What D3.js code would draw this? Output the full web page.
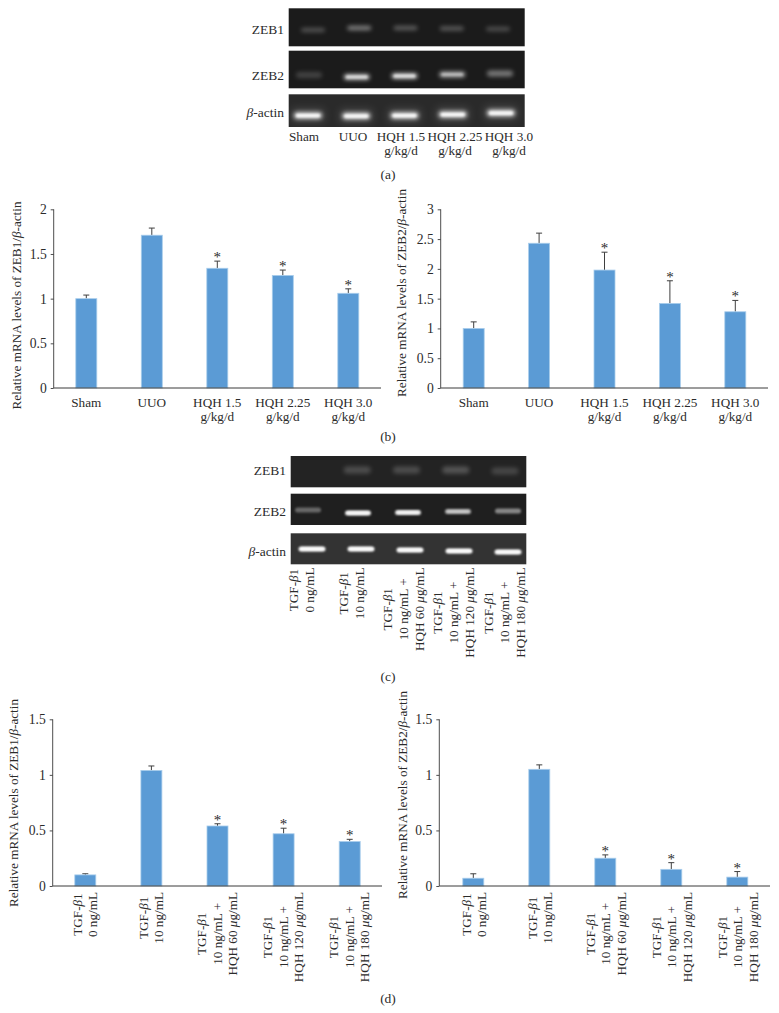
<!DOCTYPE html>
<html><head><meta charset="utf-8">
<script src="https://cdn.jsdelivr.net/npm/d3@7"></script>
<style>
html,body{margin:0;padding:0;background:#fff}
svg{display:block}
text{font-family:"Liberation Serif",serif;fill:#2b2b2b}
</style></head><body>
<svg id="c" width="779" height="1013"></svg>
<script>
// ---------- Data ----------
const tissueLanes = ["Sham", "UUO", "HQH 1.5|g/kg/d", "HQH 2.25|g/kg/d", "HQH 3.0|g/kg/d"];
const cellLanes = ["TGF-β1|0 ng/mL", "TGF-β1|10 ng/mL", "TGF-β1|10 ng/mL +|HQH 60 μg/mL", "TGF-β1|10 ng/mL +|HQH 120 μg/mL", "TGF-β1|10 ng/mL +|HQH 180 μg/mL"];
const marked = [false, false, true, true, true];

const zeb1Tissue = [1.0, 1.71, 1.34, 1.26, 1.06];
const zeb1TissueTop = [1.04, 1.79, 1.42, 1.32, 1.11];
const zeb2Tissue = [1.0, 2.43, 1.98, 1.42, 1.28];
const zeb2TissueTop = [1.11, 2.6, 2.28, 1.8, 1.47];
const zeb1Cell = [0.1, 1.04, 0.54, 0.47, 0.4];
const zeb1CellTop = [0.11, 1.08, 0.56, 0.52, 0.42];
const zeb2Cell = [0.07, 1.05, 0.25, 0.15, 0.08];
const zeb2CellTop = [0.11, 1.09, 0.28, 0.21, 0.13];

const ticksTo2 = [0, 0.5, 1, 1.5, 2];
const ticksTo3 = [0, 0.5, 1, 1.5, 2, 2.5, 3];
const ticksTo15 = [0, 0.5, 1, 1.5];

// band brightness (0..1)
const gelA_zeb1 = [0.30, 0.55, 0.36, 0.34, 0.28];
const gelA_zeb2 = [0.22, 0.86, 0.88, 0.74, 0.52];
const gelA_actin = [1, 1, 1, 1, 1];
const gelC_zeb1 = [0.0, 0.24, 0.24, 0.28, 0.20];
const gelC_zeb2 = [0.36, 1, 0.95, 0.72, 0.52];
const gelC_actin = [0.95, 0.95, 0.95, 0.95, 0.95];

// ---------- Layout ----------
const svg = d3.select("#c");
const BAR = "#5b9bd5", EDGE = "#a9cdec", INK = "#3a3a3a";
const FS = 13.2;

const defs = svg.append("defs");
defs.append("filter").attr("id","soft").attr("x","-30%").attr("y","-150%").attr("width","160%").attr("height","400%")
  .append("feGaussianBlur").attr("stdDeviation",1.9);
defs.append("filter").attr("id","glow").attr("x","-40%").attr("y","-200%").attr("width","180%").attr("height","500%")
  .append("feGaussianBlur").attr("stdDeviation",4);
defs.append("filter").attr("id","fine").attr("x","-30%").attr("y","-150%").attr("width","160%").attr("height","400%")
  .append("feGaussianBlur").attr("stdDeviation",1.1);

// writes a string into a text node, setting Greek letters in italics
function rich(node, str){
  str.split(/([βμ])/).filter(s=>s).forEach(s=>{
    const t = node.append("tspan").text(s);
    if (s==="β"||s==="μ") t.attr("font-style","italic");
  });
  return node;
}

function caption(label, y){
  svg.append("text").attr("x",388).attr("y",y).attr("text-anchor","middle")
    .attr("font-size",13.5).text(label);
}

function barChart(o){
  const x = d3.scalePoint().domain(o.lanes).range(o.xRange);
  const y = d3.scaleLinear().domain([0,o.max]).range([o.y0,o.y1]);
  const g = svg.append("g");
  const rows = o.values.map((v,i)=>({v,top:o.tops[i],lane:o.lanes[i],mark:marked[i]}));

  g.selectAll(".err").data(rows).join("g").each(function(d){
    const e = d3.select(this), cx = x(d.lane);
    e.append("line").attr("x1",cx).attr("x2",cx).attr("y1",y(d.v)).attr("y2",y(d.top));
    e.append("line").attr("x1",cx-3).attr("x2",cx+3).attr("y1",y(d.top)).attr("y2",y(d.top));
  }).selectAll("line").attr("stroke","#3f3f3f").attr("stroke-width",1);

  g.selectAll(".bar").data(rows).join("rect")
    .attr("x",d=>x(d.lane)-10.5).attr("width",21)
    .attr("y",d=>y(d.v)).attr("height",d=>o.y0-y(d.v))
    .attr("fill",BAR).attr("stroke",EDGE).attr("stroke-width",0.8);

  g.selectAll(".star").data(rows.filter(d=>d.mark)).join("text")
    .attr("x",d=>x(d.lane)).attr("y",d=>y(d.top)+1)
    .attr("text-anchor","middle").attr("font-size",15).text("*");

  const axisY = d3.axisLeft(y).tickValues(o.ticks).tickFormat(d3.format("~g")).tickSize(3).tickPadding(4);
  const ay = g.append("g").attr("transform",`translate(${o.xAxis},0)`).call(axisY);
  ay.selectAll("text").attr("font-size",13.6).attr("font-family","Liberation Serif").attr("fill","#2b2b2b");
  ay.selectAll("line,path").attr("stroke",INK).attr("stroke-width",0.9);
  ay.select("path").attr("d",`M0,${o.y1}V${o.y0}`);

  g.append("line").attr("x1",o.xAxis).attr("x2",o.xEnd).attr("y1",o.y0).attr("y2",o.y0)
    .attr("stroke",INK).attr("stroke-width",1);

  rich(g.append("text").attr("text-anchor","middle").attr("font-size",FS)
    .attr("transform",`translate(${o.titleX},${o.titleY}) rotate(-90)`), o.title);

  if (o.rotated) rotatedLabels(g, o.lanes, x, o.y0+6, o.shift||0);
  else o.lanes.forEach(l=>{
    l.split("|").forEach((line,i)=>{
      g.append("text").attr("x",x(l)).attr("y",o.y0+19+i*14.3)
        .attr("text-anchor","middle").attr("font-size",FS).text(line);
    });
  });
}

function rotatedLabels(g, lanes, x, top, shift){
  lanes.forEach(l=>{
    const lines = l.split("|");
    const nodes = lines.map(line=>rich(g.append("text").attr("text-anchor","middle").attr("font-size",FS),line));
    const longest = d3.max(nodes,n=>n.node().getComputedTextLength());
    const cy = top + longest/2;
    nodes.forEach((n,i)=>{
      const cx = x(l) + shift + (i-(lines.length-1)/2)*15.6 + 4;
      n.attr("transform",`translate(${cx},${cy}) rotate(-90)`);
    });
  });
}

function gel(o){
  const g = svg.append("g");
  g.append("rect").attr("x",o.x0).attr("width",o.x1-o.x0).attr("y",o.y0).attr("height",o.y1-o.y0).attr("fill",o.bg);
  const x = d3.scalePoint().domain(d3.range(o.values.length)).range(o.xRange);
  const bands = o.values.map((v,i)=>({v,i}));
  if (o.halo) g.selectAll(".h").data(bands).join("rect")
    .attr("x",d=>x(d.i)-o.w/2-2).attr("width",o.w+4)
    .attr("y",d=>o.y[d.i]-o.h/2-3).attr("height",o.h+6)
    .attr("fill","#fff").attr("opacity",o.halo).attr("filter","url(#glow)");
  g.selectAll(".b").data(bands.filter(d=>d.v>0)).join("rect")
    .attr("x",d=>x(d.i)-o.w/2).attr("width",o.w)
    .attr("y",d=>o.y[d.i]-o.h/2).attr("height",o.h).attr("rx",o.h/2)
    .attr("fill","#fff").attr("opacity",d=>d.v*(o.dim||0.8)).attr("filter",`url(#${o.blur||"soft"})`);
  g.selectAll(".k").data(bands.filter(d=>d.v>0.7)).join("rect")
    .attr("x",d=>x(d.i)-o.w/2+2).attr("width",o.w-4)
    .attr("y",d=>o.y[d.i]-o.h*0.25).attr("height",o.h*0.5).attr("rx",o.h*0.25)
    .attr("fill","#fff").attr("opacity",d=>(d.v-0.55)*2).attr("filter","url(#fine)");
  rich(g.append("text").attr("x",o.labelX).attr("y",o.labelY).attr("text-anchor","end").attr("font-size",13.5),o.label);
}

// ---------- (a) ----------
const gA = {x0:288.7,x1:524.7};
gel({...gA,y0:8.3,y1:46.3,bg:"#1b1b1b",values:gelA_zeb1,xRange:[313,498],w:24,h:4.5,y:[30,28,28,28.5,29],label:"ZEB1",labelX:284,labelY:33.5});
gel({...gA,y0:50.7,y1:88.3,bg:"#1b1b1b",values:gelA_zeb2,xRange:[309,500],w:26,h:6,y:[75,77,76,74.5,73.5],label:"ZEB2",labelX:284,labelY:80});
gel({...gA,y0:94.3,y1:127,bg:"#2a2a2a",values:gelA_actin,xRange:[308,501],w:28,h:6.5,y:[115.5,116,115.5,114.5,113],halo:0.16,label:"β-actin",labelX:284,labelY:117});
const gelALaneX = d3.scaleOrdinal().domain(tissueLanes).range([304,353,401,455,509]);
tissueLanes.forEach(l=>{
  l.split("|").forEach((t,j)=>svg.append("text").attr("x",gelALaneX(l)).attr("y",141+j*14.3).attr("text-anchor","middle").attr("font-size",FS).text(t));
});
caption("(a)",179);

// ---------- (b) ----------
barChart({lanes:tissueLanes,values:zeb1Tissue,tops:zeb1TissueTop,max:2,ticks:ticksTo2,xRange:[86.3,348.3],y0:388,y1:209.3,xAxis:53.7,xEnd:381,titleX:21,titleY:305.5,title:"Relative mRNA levels of ZEB1/β-actin"});
barChart({lanes:tissueLanes,values:zeb2Tissue,tops:zeb2TissueTop,max:3,ticks:ticksTo3,xRange:[473.7,735.3],y0:388,y1:209.3,xAxis:440.7,xEnd:768,titleX:406,titleY:293,title:"Relative mRNA levels of ZEB2/β-actin"});
caption("(b)",441);

// ---------- (c) ----------
const gC = {x0:290.7,x1:526.3};
gel({...gC,y0:456,y1:487.3,bg:"#232323",values:gelC_zeb1,xRange:[308,505],w:27,h:7,y:[470,470,470,470,471],label:"ZEB1",labelX:286,labelY:474.5,blur:"soft"});
gel({...gC,y0:493.7,y1:525,bg:"#1f1f1f",values:gelC_zeb2,xRange:[308,508],w:26,h:5,y:[510,513,512.5,511.5,511],label:"ZEB2",labelX:286,labelY:515.5,blur:"fine",dim:0.9});
gel({...gC,y0:533.3,y1:564.3,bg:"#333",values:gelC_actin,xRange:[312,508],w:27,h:5,y:[549,549,550,551,552],label:"β-actin",labelX:286,labelY:556,blur:"fine",dim:1});
(function(){
  const g = svg.append("g");
  const x = d3.scaleOrdinal().domain(cellLanes).range([306,356,408,458,509]);
  rotatedLabels(g, cellLanes, x, 567.5, -4);
})();
caption("(c)",681);

// ---------- (d) ----------
barChart({lanes:cellLanes,values:zeb1Cell,tops:zeb1CellTop,max:1.5,ticks:ticksTo15,xRange:[85.3,349.7],y0:886,y1:719.3,xAxis:52.7,xEnd:382,titleX:18,titleY:803,title:"Relative mRNA levels of ZEB1/β-actin",rotated:true});
barChart({lanes:cellLanes,values:zeb2Cell,tops:zeb2CellTop,max:1.5,ticks:ticksTo15,xRange:[473.3,737.3],y0:886,y1:719.3,xAxis:439.3,xEnd:770,titleX:407,titleY:795,title:"Relative mRNA levels of ZEB2/β-actin",rotated:true,shift:1});
caption("(d)",1003);
</script></body></html>
